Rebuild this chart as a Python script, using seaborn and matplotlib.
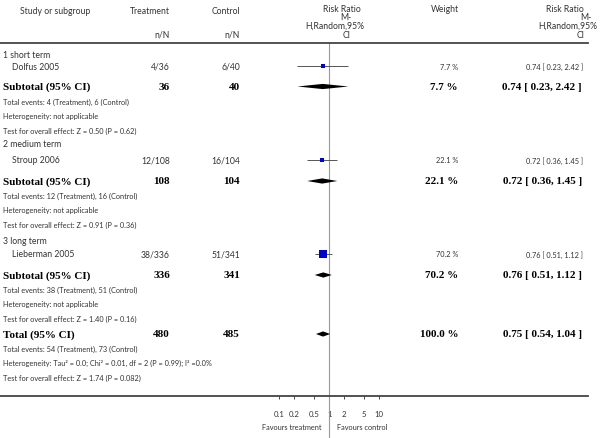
import matplotlib
matplotlib.use("Agg")
import matplotlib.pyplot as plt
import seaborn as sns
import numpy as np

sns.set_theme(style="white")
plt.rcParams['font.family'] = ['Lato', 'DejaVu Sans']

# ---- data ----
groups = ['1 short term', '2 medium term', '3 long term']
studies = ['Dolfus 2005', 'Stroup 2006', 'Lieberman 2005']
treat_events = [4, 12, 38]
treat_n = [36, 108, 336]
ctrl_events = [6, 16, 51]
ctrl_n = [40, 104, 341]
rr = [0.74, 0.72, 0.76]
rr_lo = [0.23, 0.36, 0.51]
rr_hi = [2.42, 1.45, 1.12]
weights = [7.7, 22.1, 70.2]
z_vals = ['0.50', '0.91', '1.40']
p_vals = ['0.62', '0.36', '0.16']

total_rr, total_lo, total_hi = 0.75, 0.54, 1.04
total_het = 'Heterogeneity: Tau\u00b2 = 0.0; Chi\u00b2 = 0.01, df = 2 (P = 0.99); I\u00b2 =0.0%'
total_z, total_p = '1.74', '0.082'

ticks = [0.1, 0.2, 0.5, 1, 2, 5, 10]
tick_labels = ['0.1', '0.2', '0.5', '1', '2', '5', '10']

# ---- layout (pixel rows) ----
W, H = 600, 439
label_y = [56, 145, 242]
study_y = [67, 161, 255]
sub_y = [87.5, 182, 276]
total_y = 335
foot_gap = 14.5
x_one, decade = 329.3, 49.85
ax_top, ax_bot, ax_right = 44, 397, 588

fig = plt.figure(figsize=(6, 4.39), dpi=100)
bg = fig.add_axes([0, 0, 1, 1])
bg.set_xlim(0, W)
bg.set_ylim(H, 0)
bg.axis('off')

ax = fig.add_axes([0, (H - ax_bot) / H, ax_right / W, (ax_bot - ax_top) / H])
ax.set_xscale('log')
ax.set_xlim(10 ** ((0 - x_one) / decade), 10 ** ((ax_right - x_one) / decade))
ax.set_ylim(ax_bot, ax_top)
ax.patch.set_alpha(0)
for s in ['left', 'right']:
    ax.spines[s].set_visible(False)
for s in ['top', 'bottom']:
    ax.spines[s].set_color('#444444')
    ax.spines[s].set_linewidth(1.3)
ax.set_yticks([])
ax.set_xticks(ticks)
ax.set_xticklabels(tick_labels)
ax.minorticks_off()
ax.tick_params(axis='x', bottom=True, length=2.5, width=0.7, color='#444444',
               labelsize=5.6, pad=7.5, labelcolor='#333333')
ax.axvline(1, ymin=-(H - ax_bot) / (ax_bot - ax_top), ymax=1, clip_on=False,
           color='#999999', lw=0.8, zorder=1)

txt = '#333333'
small = dict(fontsize=5.3, color=txt, va='center')
mid = dict(fontsize=6.2, color=txt, va='center')
bold = dict(fontsize=8, color='black', va='center', family='Liberation Serif',
            fontweight='bold')

# header
bg.text(20, 11, 'Study or subgroup', ha='left', **mid)
bg.text(170, 11, 'Treatment', ha='right', **mid)
bg.text(240, 11, 'Control', ha='right', **mid)
bg.text(170, 35, 'n/N', ha='right', **mid)
bg.text(240, 35, 'n/N', ha='right', **mid)
bg.text(445, 10, 'Weight', ha='center', **mid)
for cx, yy, t in [(342, 10, 'Risk Ratio'), (346, 18, 'M-'),
                  (335, 26, 'H,Random,95%'), (347, 35, 'CI')]:
    bg.text(cx, yy, t, ha='center', **mid)
for cx, yy, t in [(565, 10, 'Risk Ratio'), (586, 18, 'M-'),
                  (568, 26, 'H,Random,95%'), (581, 35, 'CI')]:
    bg.text(cx, yy, t, ha='center', **mid)


def diamond(est, lo, hi, y, h=2.6):
    ax.fill([lo, est, hi, est], [y, y - h, y, y + h], color='black', lw=0, zorder=3)


for i in range(3):
    bg.text(3, label_y[i], groups[i], ha='left', **mid)
    yy = study_y[i]
    bg.text(12, yy, studies[i], ha='left', **mid)
    bg.text(170, yy, f'{treat_events[i]}/{treat_n[i]}', ha='right', **mid)
    bg.text(240, yy, f'{ctrl_events[i]}/{ctrl_n[i]}', ha='right', **mid)
    bg.text(458, yy, f'{weights[i]} %', ha='right', **small)
    bg.text(583, yy, f'{rr[i]:.2f} [ {rr_lo[i]:.2f}, {rr_hi[i]:.2f} ]', ha='right', **small)
    ax.hlines(yy, rr_lo[i], rr_hi[i], color='#555555', lw=0.7, zorder=2)
    ax.scatter([rr[i]], [yy], marker='s', s=max(weights[i] * 0.5, 5), color='#0000CC',
               linewidths=0, zorder=4)

    sy = sub_y[i]
    bg.text(3, sy, 'Subtotal (95% CI)', ha='left', **bold)
    bg.text(170, sy, f'{treat_n[i]}', ha='right', **bold)
    bg.text(240, sy, f'{ctrl_n[i]}', ha='right', **bold)
    bg.text(458, sy, f'{weights[i]} %', ha='right', **bold)
    bg.text(582, sy, f'{rr[i]:.2f} [ {rr_lo[i]:.2f}, {rr_hi[i]:.2f} ]', ha='right', **bold)
    diamond(rr[i], rr_lo[i], rr_hi[i], sy)

    foot = [f'Total events: {treat_events[i]} (Treatment), {ctrl_events[i]} (Control)',
            'Heterogeneity: not applicable',
            f'Test for overall effect: Z = {z_vals[i]} (P = {p_vals[i]})']
    for k, t in enumerate(foot):
        bg.text(3, sy + foot_gap * (k + 1), t, ha='left', **small)

# total
bg.text(3, total_y, 'Total (95% CI)', ha='left', **bold)
bg.text(170, total_y, f'{sum(treat_n)}', ha='right', **bold)
bg.text(240, total_y, f'{sum(ctrl_n)}', ha='right', **bold)
bg.text(458, total_y, f'{sum(weights):.1f} %', ha='right', **bold)
bg.text(582, total_y, f'{total_rr:.2f} [ {total_lo:.2f}, {total_hi:.2f} ]', ha='right', **bold)
diamond(total_rr, total_lo, total_hi, total_y)
foot = [f'Total events: {sum(treat_events)} (Treatment), {sum(ctrl_events)} (Control)',
        total_het,
        f'Test for overall effect: Z = {total_z} (P = {total_p})']
for k, t in enumerate(foot):
    bg.text(3, total_y + foot_gap * (k + 1) - 0.5, t, ha='left', **small)

bg.text(321, 428, 'Favours treatment', ha='right', **small)
bg.text(337, 428, 'Favours control', ha='left', **small)

fig.savefig('out.png', dpi=100)
